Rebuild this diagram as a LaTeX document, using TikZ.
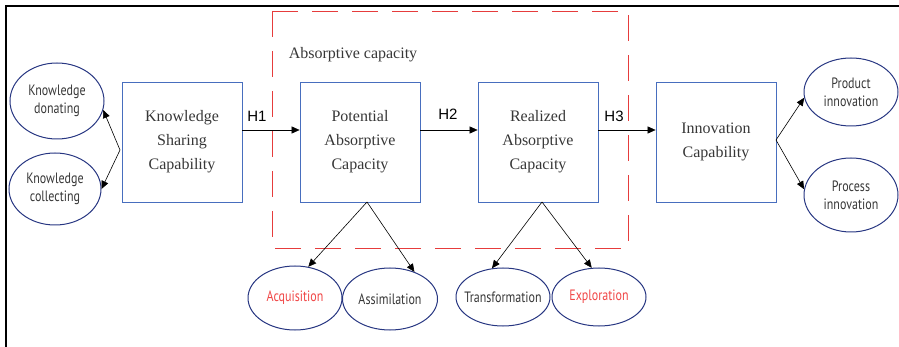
\documentclass[tikz,border=0pt]{standalone}
\usepackage{fontspec}
\setmainfont{Liberation Serif}
\newfontfamily\ellfont[FakeStretch=0.8]{PT Sans}
\newfontfamily\hfont{Liberation Sans}
\usetikzlibrary{shapes.geometric,arrows.meta}
\definecolor{boxblue}{RGB}{72,110,190}
\definecolor{ellblue}{RGB}{40,55,130}
\definecolor{dashred}{RGB}{230,60,60}
\definecolor{txtred}{RGB}{240,70,70}
\definecolor{txtgray}{RGB}{55,55,55}
\begin{document}
\begin{tikzpicture}[x=1pt,y=-1pt,
  bigbox/.style={draw=boxblue,line width=0.8pt,minimum width=120pt,minimum height=120pt,inner sep=0pt,align=center,font=\fontsize{16}{24}\selectfont,text=txtgray},
  ell/.style={draw=ellblue,line width=1pt,ellipse,inner sep=0pt},
  elltext/.style={align=center,font=\ellfont\fontsize{15}{18}\selectfont,text=txtgray},
  redtext/.style={elltext,text=txtred},
  arr/.style={-{Triangle[length=8pt,width=7pt]},line width=0.6pt,black},
  hlab/.style={font=\hfont\fontsize{15}{15}\selectfont,text=black}]
\useasboundingbox (0,0) rectangle (899,347);
% frame
\draw[line width=2pt,black] (6,347) -- (6,6) -- (899,6);
% dashed region
\draw[dashred,line width=0.9pt,dash pattern=on 26pt off 14pt] (272,11) rectangle (628,248);
\node[font=\fontsize{16}{20}\selectfont,text=txtgray] (abs) at (353,55) {Absorptive capacity};
% boxes
\node[bigbox] (ksc) at (182,142) {Knowledge\\Sharing\\Capability};
\node[bigbox] (pac) at (360,142) {Potential\\Absorptive\\Capacity};
\node[bigbox] (rac) at (538,142) {Realized\\Absorptive\\Capacity};
\node[bigbox] (ic) at (716,142) {Innovation\\Capability};
% ellipses
\node[ell,minimum width=94pt,minimum height=76pt,label={[elltext]center:Knowledge\\donating}] (kd) at (57,101) {};
\node[ell,minimum width=92pt,minimum height=72pt,label={[elltext]center:Knowledge\\collecting}] (kc) at (55,189) {};
\node[ell,minimum width=94pt,minimum height=68pt,label={[elltext]center:Product\\innovation}] (pi) at (851,92) {};
\node[ell,minimum width=94pt,minimum height=74pt,label={[elltext]center:Process\\innovation}] (pri) at (851,195) {};
\node[ell,minimum width=94pt,minimum height=64pt,label={[redtext]center:Acquisition}] (acq) at (295,298) {};
\node[ell,minimum width=95pt,minimum height=62pt,label={[elltext]center:Assimilation}] (ass) at (390,299) {};
\node[ell,minimum width=94pt,minimum height=58pt,label={[elltext]center:Transformation}] (tra) at (503,297) {};
\node[ell,minimum width=94pt,minimum height=58pt,label={[redtext]center:Exploration}] (exp) at (599,297) {};
% junctions
\coordinate (j1) at (120,150);
\coordinate (j2) at (776,140);
\coordinate (pb) at (367,202);
\coordinate (rb) at (542,202);
% connectors
\draw[arr] (j1) -- (kd.-11);
\draw[arr] (j1) -- (kc.0);
\draw[arr] (ksc.east |- 0,130) -- (pac.west |- 0,130);
\draw[arr] (pac.east |- 0,130) -- (rac.west |- 0,130);
\draw[arr] (rac.east |- 0,130) -- (ic.west |- 0,130);
\draw[arr] (j2) -- (pi.-173);
\draw[arr] (j2) -- (pri.173);
\draw[arr] (pb) -- (acq.67);
\draw[arr] (pb) -- (ass.48);
\draw[arr] (rb) -- (tra.111);
\draw[arr] (rb) -- (exp.104);
% hypothesis labels
\node[hlab] (h1) at (257,116) {H1};
\node[hlab] (h2) at (448,114) {H2};
\node[hlab] (h3) at (614,116) {H3};
\end{tikzpicture}
\end{document}
